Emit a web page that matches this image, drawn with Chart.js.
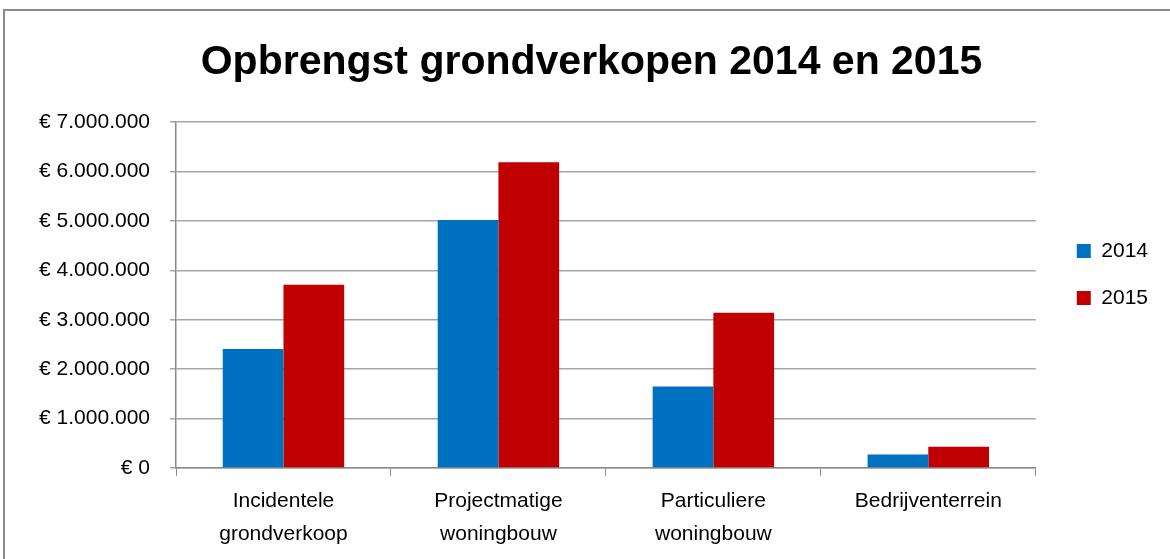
<!DOCTYPE html>
<html>
<head>
<meta charset="utf-8">
<script src="https://cdn.jsdelivr.net/npm/chart.js@4"></script>
<style>
  html, body { margin: 0; padding: 0; background: #fff; overflow: hidden; }
  #wrap { position: relative; width: 1170px; height: 559px; }
  #frame { position: absolute; left: 3px; top: 9px; width: 1200px; height: 600px; border: 2px solid #8c8c8c; box-sizing: border-box; }
  canvas { position: absolute; left: 0; top: 0; }
</style>
</head>
<body>
<div id="wrap">
  <div id="frame"></div>
  <canvas id="barChart" width="1170" height="559"></canvas>
</div>
<script>
// categories and values
const categories = [
  ['Incidentele', 'grondverkoop'],
  ['Projectmatige', 'woningbouw'],
  ['Particuliere', 'woningbouw'],
  ['Bedrijventerrein']
];
const values2014 = [2410000, 5020000, 1650000, 270000];
const values2015 = [3710000, 6190000, 3140000, 430000];
const yTicks = [0, 1000000, 2000000, 3000000, 4000000, 5000000, 6000000, 7000000];

function euro(v) {
  return '€ ' + String(v).replace(/\B(?=(\d{3})+(?!\d))/g, '.');
}

// small nudges so legend and title sit where they do in the original
const nudge = {
  id: 'nudge',
  afterLayout(chart) {
    if (chart.legend) {
      chart.legend.left += 15;
      chart.legend.right += 15;
      chart.legend.top -= 5;
      chart.legend.bottom -= 5;
    }
    if (chart.titleBlock) {
      chart.titleBlock.left += 20;
      chart.titleBlock.right += 20;
    }
  }
};

const ctx = document.getElementById('barChart').getContext('2d');
new Chart(ctx, {
  type: 'bar',
  data: {
    labels: categories,
    datasets: [{
      label: '2014',
      data: values2014,
      backgroundColor: '#0070C0',
      categoryPercentage: 0.565,
      barPercentage: 1.0
    }, {
      label: '2015',
      data: values2015,
      backgroundColor: '#C00000',
      categoryPercentage: 0.565,
      barPercentage: 1.0
    }]
  },
  options: {
    responsive: false,
    animation: false,
    layout: { padding: { left: 0, right: 27, top: 0, bottom: 0 } },
    scales: {
      x: {
        grid: { drawOnChartArea: false, color: '#8c8c8c', tickLength: 8, offset: true },
        border: { color: '#8c8c8c', width: 1.5 },
        ticks: {
          color: '#000',
          padding: 9,
          maxRotation: 0,
          font: { family: 'Liberation Sans', size: 21, lineHeight: 1.55 }
        }
      },
      y: {
        min: 0,
        max: 7000000,
        afterFit: function (scale) { scale.width = 176; },
        afterBuildTicks: function (scale) { scale.ticks = yTicks.map(v => ({ value: v })); },
        grid: { color: '#a6a6a6', lineWidth: 1.5, tickLength: 6 },
        border: { color: '#8c8c8c', width: 1.5 },
        ticks: {
          color: '#000',
          padding: 20,
          font: { family: 'Liberation Sans', size: 21 },
          callback: function (v) { return euro(v); }
        }
      }
    },
    plugins: {
      title: {
        display: true,
        text: 'Opbrengst grondverkopen 2014 en 2015',
        color: '#000',
        font: { family: 'Liberation Sans', size: 41, weight: 'bold' },
        padding: { top: 38, bottom: 35 }
      },
      legend: {
        position: 'right',
        labels: {
          color: '#000',
          boxWidth: 14,
          boxHeight: 14,
          padding: 26,
          font: { family: 'Liberation Sans', size: 21 }
        }
      },
      tooltip: { enabled: false }
    }
  },
  plugins: [nudge]
});
</script>
</body>
</html>
